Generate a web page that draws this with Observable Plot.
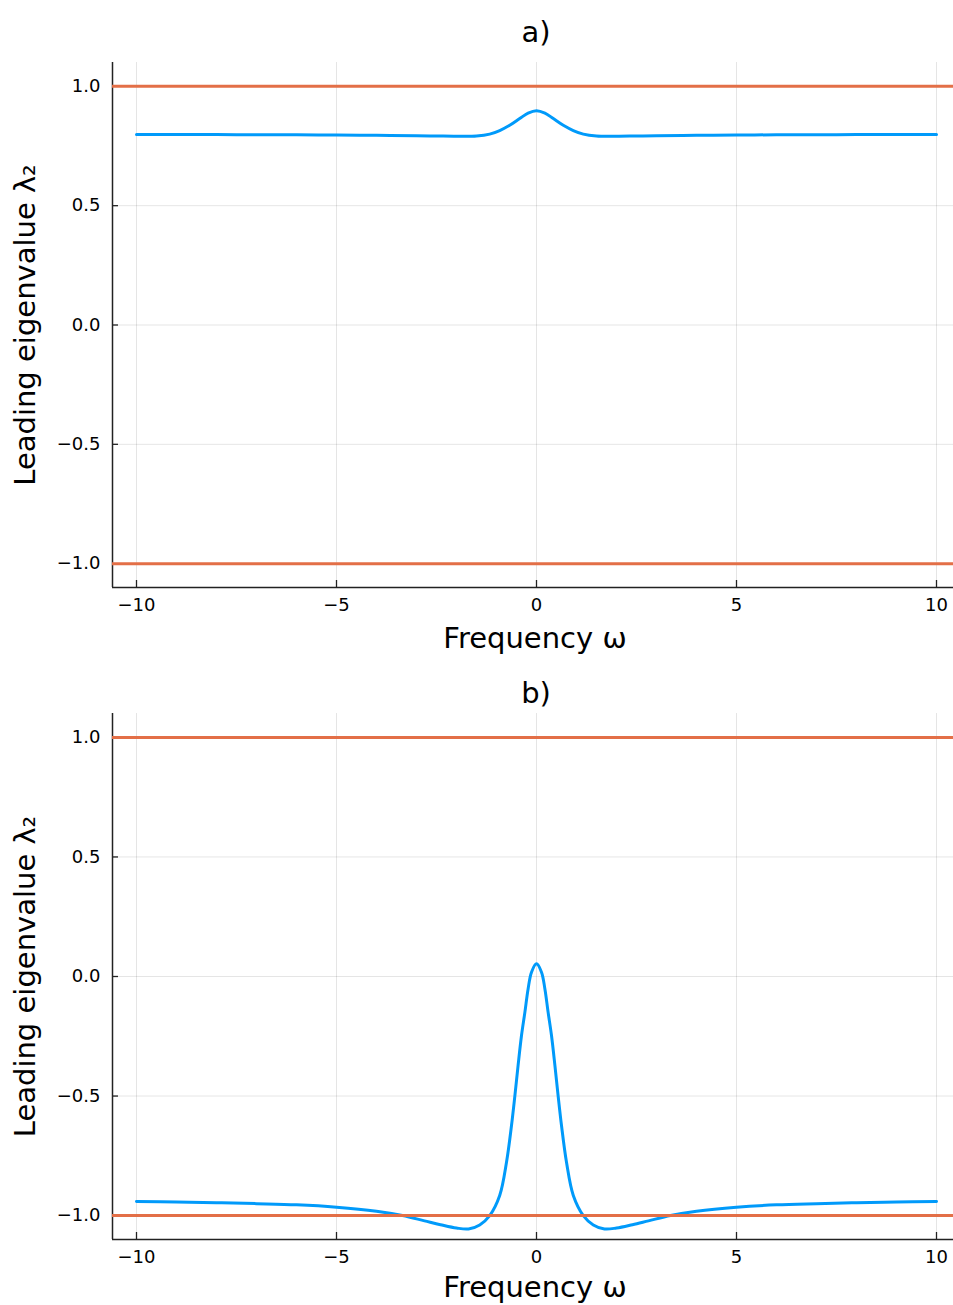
<!DOCTYPE html>
<html>
<head>
<meta charset="utf-8">
<script src="https://cdn.jsdelivr.net/npm/d3@7"></script>
<script src="https://cdn.jsdelivr.net/npm/@observablehq/plot@0.6"></script>
<style>
  html, body { margin: 0; padding: 0; background: #fff; }
  #chart svg { display: block; }
</style>
</head>
<body>
<div id="chart"></div>
<script>
// ---- data ----
const titles = ["a)", "b)"];
const xLabel = "Frequency ω";
const yLabel = "Leading eigenvalue λ₂";
const xTicks = [-10, -5, 0, 5, 10];
const yTicks = [-1.0, -0.5, 0.0, 0.5, 1.0];
const boundaryLevels = [1, -1];

const omegaA = [-10, -9, -8, -7, -6, -5, -4, -3, -2.5, -2, -1.5, -1.17, -0.92, -0.67, -0.42, -0.21, 0,
                0.21, 0.42, 0.67, 0.92, 1.17, 1.5, 2, 2.5, 3, 4, 5, 6, 7, 8, 9, 10];
const lambdaA = [0.798, 0.798, 0.798, 0.797, 0.797, 0.796, 0.795, 0.793, 0.792, 0.791, 0.792, 0.800, 0.815, 0.837, 0.865, 0.888, 0.898,
                 0.888, 0.865, 0.837, 0.815, 0.800, 0.792, 0.791, 0.792, 0.793, 0.795, 0.796, 0.797, 0.797, 0.798, 0.798, 0.798];

const omegaB = [-10, -9, -8, -7, -6, -5, -4, -3.35, -2.8, -2.4, -2, -1.7, -1.42, -1.17, -0.92, -0.75, -0.625, -0.54, -0.46, -0.375, -0.29, -0.21, -0.125, 0,
                0.125, 0.21, 0.29, 0.375, 0.46, 0.54, 0.625, 0.75, 0.92, 1.17, 1.42, 1.7, 2, 2.4, 2.8, 3.35, 4, 5, 6, 7, 8, 9, 10];
const lambdaB = [-0.941, -0.943, -0.946, -0.950, -0.955, -0.965, -0.982, -1.000, -1.022, -1.038, -1.052, -1.056, -1.039, -1.000, -0.916, -0.777, -0.623, -0.498, -0.372, -0.247, -0.149, -0.052, 0.018, 0.053,
                 0.018, -0.052, -0.149, -0.247, -0.372, -0.498, -0.623, -0.777, -0.916, -1.000, -1.039, -1.056, -1.052, -1.038, -1.022, -1.000, -0.982, -0.965, -0.955, -0.950, -0.946, -0.943, -0.941];

// ---- layout ----
const W = 953;
const xDomain = [-10.6, 10.425];
const yDomain = [-1.1, 1.1];
const blue = "#009AFA";
const orange = "#E36F47";
const font = "DejaVu Sans";

function panel(title, omega, lambda, height, mTop, mBottom, titleDy, xLabelDy) {
  const mLeft = 112, mRight = 0;
  const plotW = W - mLeft - mRight;
  const plotH = height - mTop - mBottom;
  const data = omega.map((w, i) => ({w, l: lambda[i]}));
  return Plot.plot({
    width: W, height,
    marginLeft: mLeft, marginRight: mRight, marginTop: mTop, marginBottom: mBottom,
    style: {fontFamily: font, background: "#fff", color: "#000"},
    x: {domain: xDomain},
    y: {domain: yDomain},
    marks: [
      Plot.gridX(xTicks, {stroke: "#000", strokeOpacity: 0.1, strokeWidth: 1}),
      Plot.gridY(yTicks, {stroke: "#000", strokeOpacity: 0.1, strokeWidth: 1}),
      Plot.axisX(xTicks, {tickSize: 0, tickPadding: 11, fontSize: 18, label: null, tickFormat: d3.format("d")}),
      Plot.axisY(yTicks, {tickSize: 0, tickPadding: 12, fontSize: 18, label: null, tickFormat: d3.format(".1f")}),
      // inward tick marks
      Plot.ruleX(xTicks, {x: d => d, insetTop: plotH - 7, stroke: "#222", strokeWidth: 1.3}),
      Plot.ruleY(yTicks, {y: d => d, insetRight: plotW - 6, stroke: "#222", strokeWidth: 1.3}),
      // axis lines
      Plot.ruleX([xDomain[0]], {stroke: "#222", strokeWidth: 1.5}),
      Plot.ruleY([yDomain[0]], {stroke: "#222", strokeWidth: 1.5}),
      Plot.line(data, {x: "w", y: "l", stroke: blue, strokeWidth: 3, curve: "catmull-rom"}),
      Plot.ruleY(boundaryLevels, {stroke: orange, strokeWidth: 3}),
      Plot.text([title], {frameAnchor: "top", lineAnchor: "middle", textAnchor: "middle", dx: 3, dy: titleDy, fontSize: 29, fill: "#000"}),
      Plot.text([xLabel], {frameAnchor: "bottom", lineAnchor: "middle", textAnchor: "middle", dx: 2, dy: xLabelDy, fontSize: 29, fill: "#000"}),
      Plot.text([yLabel], {frameAnchor: "left", lineAnchor: "middle", textAnchor: "middle", dx: -87, rotate: -90, fontSize: 29, fill: "#000"})
    ]
  });
}

const root = document.getElementById("chart");
// panel a: plot area y 62..587 ; panel b: plot area y 713..1239 (page coordinates)
root.appendChild(panel(titles[0], omegaA, lambdaA, 664, 62, 77, -30, 51));
root.appendChild(panel(titles[1], omegaB, lambdaB, 641, 49, 66, -20, 48));
</script>
</body>
</html>
